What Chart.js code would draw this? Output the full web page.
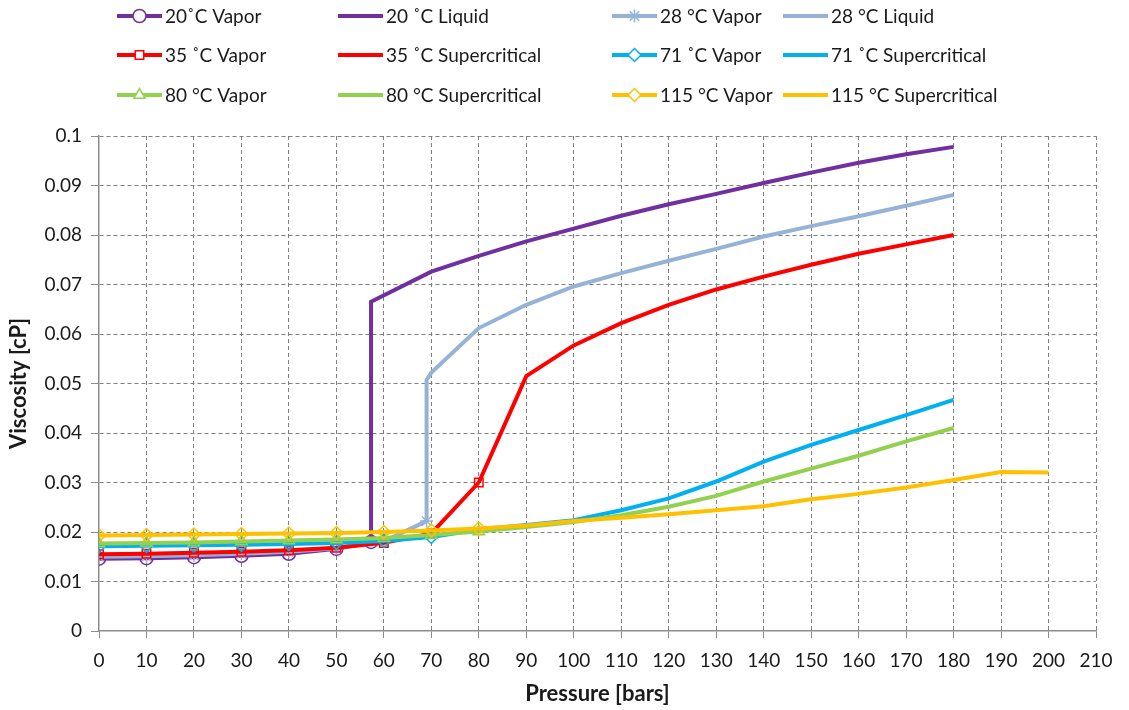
<!DOCTYPE html>
<html>
<head>
<meta charset="utf-8">
<script src="https://cdn.jsdelivr.net/npm/chart.js@4"></script>
<style>
  html, body { margin: 0; padding: 0; background: #fff; }
  #chart { display: block; }
</style>
</head>
<body>
<canvas id="chart" width="1129" height="710"></canvas>
<script>
// pressures [bars] and viscosities [cP]
const p20Vapor = [0, 10, 20, 30, 40, 50, 57.3];
const v20Vapor = [0.0146, 0.0147, 0.0149, 0.0152, 0.0156, 0.0166, 0.0180];
const p20Liquid = [57.3, 57.3, 70, 80, 90, 100, 110, 120, 130, 140, 150, 160, 170, 180];
const v20Liquid = [0.0180, 0.0665, 0.0726, 0.0758, 0.0787, 0.0813, 0.0839, 0.0862, 0.0883, 0.0905, 0.0926, 0.0946, 0.0963, 0.0978];

const p28Vapor = [0, 10, 20, 30, 40, 50, 60, 69];
const v28Vapor = [0.0150, 0.0151, 0.0153, 0.0156, 0.0160, 0.0167, 0.0181, 0.0222];
const p28Liquid = [69, 69, 70, 80, 90, 100, 110, 120, 130, 140, 150, 160, 170, 180];
const v28Liquid = [0.0222, 0.0507, 0.0522, 0.0612, 0.0659, 0.0696, 0.0723, 0.0748, 0.0772, 0.0797, 0.0818, 0.0838, 0.0859, 0.0881];

const p35Vapor = [0, 10, 20, 30, 40, 50, 60, 70, 80];
const v35Vapor = [0.0155, 0.0156, 0.0158, 0.0160, 0.0163, 0.0168, 0.0178, 0.0197, 0.0300];
const p35Super = [80, 90, 100, 110, 120, 130, 140, 150, 160, 170, 180];
const v35Super = [0.0300, 0.0515, 0.0577, 0.0622, 0.0659, 0.0690, 0.0716, 0.0740, 0.0762, 0.0781, 0.0800];

const p71Vapor = [0, 10, 20, 30, 40, 50, 60, 70];
const v71Vapor = [0.0171, 0.0172, 0.0173, 0.0174, 0.0176, 0.0178, 0.0182, 0.0190];
const p71Super = [70, 80, 90, 100, 110, 120, 130, 140, 150, 160, 170, 180];
const v71Super = [0.0190, 0.0205, 0.0214, 0.0224, 0.0244, 0.0268, 0.0302, 0.0342, 0.0376, 0.0406, 0.0436, 0.0467];

const p80Vapor = [0, 10, 20, 30, 40, 50, 60, 70, 80];
const v80Vapor = [0.0177, 0.0178, 0.0179, 0.0181, 0.0183, 0.0185, 0.0188, 0.0194, 0.0201];
const p80Super = [80, 90, 100, 110, 120, 130, 140, 150, 160, 170, 180];
const v80Super = [0.0201, 0.0210, 0.0220, 0.0234, 0.0251, 0.0273, 0.0302, 0.0328, 0.0354, 0.0383, 0.0410];

const p115Vapor = [0, 10, 20, 30, 40, 50, 60, 70, 80];
const v115Vapor = [0.0193, 0.0194, 0.0195, 0.0196, 0.0197, 0.0198, 0.0200, 0.0203, 0.0207];
const p115Super = [80, 90, 100, 110, 120, 130, 140, 150, 160, 170, 180, 190, 200];
const v115Super = [0.0207, 0.0213, 0.0222, 0.0229, 0.0236, 0.0244, 0.0252, 0.0266, 0.0277, 0.0290, 0.0305, 0.0321, 0.0320];

const seriesLabels = [
  '20˚C Vapor', '20 ˚C Liquid', '28 °C Vapor', '28 °C Liquid',
  '35 ˚C Vapor', '35 ˚C Supercritical', '71 ˚C Vapor', '71 ˚C Supercritical',
  '80 °C Vapor', '80 °C Supercritical', '115 °C Vapor', '115 °C Supercritical'
];

const purple = '#7030A0', lightBlue = '#95B3D7', red = '#FF0000',
      blue = '#00B0F0', green = '#92D050', orange = '#FFC000';

const FONT = 'Lato, "Liberation Sans", sans-serif';
const axisGray = '#8c8c8c';

const toPts = (p, v) => p.map((x, i) => ({ x: x, y: v[i] }));

const seriesDefs = [
  [p20Vapor, v20Vapor, purple, 'circle'],
  [p20Liquid, v20Liquid, purple, false],
  [p28Vapor, v28Vapor, lightBlue, 'star'],
  [p28Liquid, v28Liquid, lightBlue, false],
  [p35Vapor, v35Vapor, red, 'rect'],
  [p35Super, v35Super, red, false],
  [p71Vapor, v71Vapor, blue, 'rectRot'],
  [p71Super, v71Super, blue, false],
  [p80Vapor, v80Vapor, green, 'triangle'],
  [p80Super, v80Super, green, false],
  [p115Vapor, v115Vapor, orange, 'rectRot'],
  [p115Super, v115Super, orange, false]
];

const datasets = seriesDefs.map((s, i) => ({
  label: seriesLabels[i],
  data: toPts(s[0], s[1]),
  borderColor: s[2],
  backgroundColor: s[2],
  borderWidth: 4,
  pointStyle: s[3],
  pointRadius: s[3] ? (s[3] === 'rect' ? 6 : 6.5) : 0,
  pointBorderWidth: 1.5,
  pointBackgroundColor: 'rgba(255,255,255,0)',
  pointBorderColor: s[2],
  tension: 0,
  order: seriesDefs.length - i  // later series drawn on top, like the original
}));

// Excel style legend: fixed 4 columns x 3 rows above the plot
const gridLegend = {
  id: 'gridLegend',
  afterDraw(chart) {
    const ctx = chart.ctx;
    const colX = [117, 338, 612, 783];
    const rowY = [16, 55, 95];
    const lineLen = 45;
    ctx.save();
    ctx.font = '19px ' + FONT;
    ctx.textBaseline = 'middle';
    chart.data.datasets.forEach((ds, i) => {
      const x = colX[i % 4], y = rowY[Math.floor(i / 4)];
      ctx.strokeStyle = ds.borderColor;
      ctx.lineWidth = 4;
      ctx.lineCap = 'butt';
      ctx.beginPath();
      ctx.moveTo(x, y);
      ctx.lineTo(x + lineLen, y);
      ctx.stroke();
      if (ds.pointStyle) {
        ctx.fillStyle = '#fff';
        ctx.strokeStyle = ds.borderColor;
        ctx.lineWidth = 1.5;
        Chart.helpers.drawPoint(ctx, {
          pointStyle: ds.pointStyle, radius: ds.pointRadius, borderWidth: 1.5, rotation: 0
        }, x + lineLen / 2, y);
      }
      ctx.fillStyle = '#1a1a1a';
      ctx.fillText(ds.label, x + lineLen + 3, y + 1);
    });
    ctx.restore();
  }
};

new Chart(document.getElementById('chart'), {
  type: 'line',
  data: { datasets: datasets },
  plugins: [gridLegend],
  options: {
    responsive: false,
    animation: false,
    layout: { padding: { top: 136, right: 33, left: 0, bottom: 0 } },
    plugins: { legend: { display: false }, tooltip: { enabled: false } },
    scales: {
      x: {
        type: 'linear',
        min: 0,
        max: 210,
        afterFit: (s) => { s.height = 79; },
        ticks: { stepSize: 10, color: '#1a1a1a', font: { family: FONT, size: 19 }, padding: 11, maxRotation: 0 },
        grid: {
          color: (c) => (c.tick && c.tick.value === 0 ? 'rgba(0,0,0,0)' : '#7f7f7f'),
          lineWidth: 1, tickLength: 7, tickColor: axisGray, tickBorderDash: []
        },
        border: { display: true, color: axisGray, width: 1.5, dash: [4, 3] },
        title: { display: true, text: 'Pressure [bars]', color: '#1a1a1a',
                 font: { family: FONT, size: 22, weight: 'bold' }, padding: { top: 0, bottom: 3 } }
      },
      y: {
        type: 'linear',
        min: 0,
        max: 0.1,
        afterFit: (s) => { s.width = 99; },
        ticks: { stepSize: 0.01, color: '#1a1a1a', font: { family: FONT, size: 19 }, padding: 9,
                 callback: (v) => String(Number(v.toFixed(3))) },
        grid: {
          color: (c) => (c.tick && c.tick.value === 0 ? 'rgba(0,0,0,0)' : '#7f7f7f'),
          lineWidth: 1, tickLength: 8, tickColor: axisGray, tickBorderDash: []
        },
        border: { display: true, color: axisGray, width: 1.5, dash: [4, 3] },
        title: { display: true, text: 'Viscosity [cP]', color: '#1a1a1a',
                 font: { family: FONT, size: 22, weight: 'bold' }, padding: { top: 6, bottom: 0 } }
      }
    }
  }
});
</script>
</body>
</html>
